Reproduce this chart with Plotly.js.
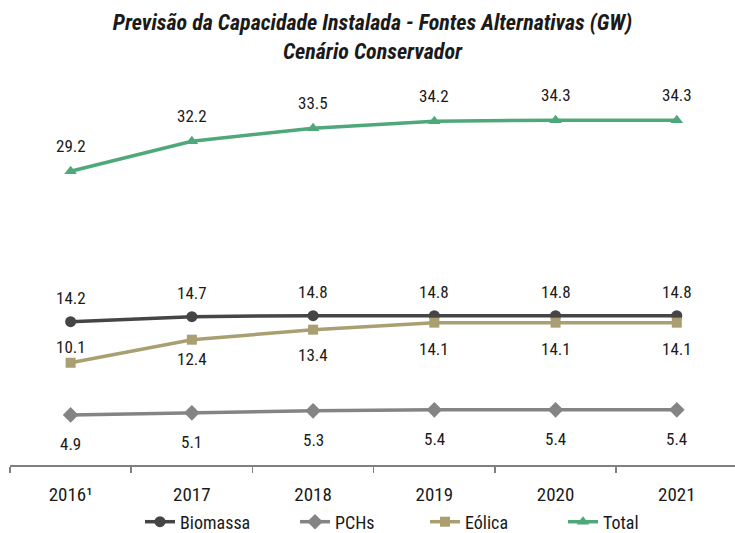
<!DOCTYPE html>
<html>
<head>
<meta charset="utf-8">
<script src="https://cdn.plot.ly/plotly-3.0.1.min.js"></script>
<style>body{margin:0;padding:0;background:#fff}#chart{width:735px;height:533px}</style>
</head>
<body>
<div id="chart"></div>
<script>
const categories = ['2016¹', '2017', '2018', '2019', '2020', '2021'];
const biomassa = [14.2, 14.7, 14.8, 14.8, 14.8, 14.8];
const pchs = [4.9, 5.1, 5.3, 5.4, 5.4, 5.4];
const eolica = [10.1, 12.4, 13.4, 14.1, 14.1, 14.1];
const total = [29.2, 32.2, 33.5, 34.2, 34.3, 34.3];
const seriesNames = ['Biomassa', 'PCHs', 'Eólica', 'Total'];

const FONT = '"Roboto Condensed", "Liberation Sans Narrow", Roboto, sans-serif';
const colors = ['#454545', '#848484', '#A99F70', '#4FA87A'];
const symbols = ['circle', 'diamond', 'square', 'triangle-up'];
const sizes = [11, 12, 10, 11];
const allSeries = [biomassa, pchs, eolica, total];
// label offsets (pixels) per series: positive = above
const shifts = [
  [24, 24, 24, 24, 24, 24],
  [-29, -29, -29, -29, -29, -29],
  [16, -19, -25, -26, -26, -26],
  [25, 25, 25, 25, 25, 25]
];
// legend placement (left pixel of each legend item) and legend ids
const legendLeft = [140, 295, 425, 563];
const legendIds = ['legend', 'legend2', 'legend3', 'legend4'];

const traces = allSeries.map((vals, s) => ({
  type: 'scatter', mode: 'lines+markers',
  x: categories, y: vals, name: seriesNames[s],
  legend: legendIds[s],
  line: {color: colors[s], width: 3.5},
  marker: {color: colors[s], symbol: symbols[s], size: sizes[s]},
  hoverinfo: 'skip'
}));

const annotations = [];
allSeries.forEach((vals, s) => {
  vals.forEach((v, i) => {
    annotations.push({
      x: i, y: v, xref: 'x', yref: 'y',
      text: v.toFixed(1), showarrow: false, yshift: shifts[s][i],
      font: {family: FONT, size: 17, color: '#1a1a1a'}
    });
  });
});

const W = 735, H = 533, ML = 10, MR = 0, MT = 63, MB = 68;
const plotW = W - ML - MR, plotH = H - MT - MB;

const layout = {
  width: W, height: H,
  margin: {l: ML, r: MR, t: MT, b: MB, autoexpand: false},
  paper_bgcolor: '#fff', plot_bgcolor: '#fff',
  title: {
    text: '<b><i>Previsão da Capacidade Instalada - Fontes Alternativas (GW)<br>Cenário Conservador</i></b>',
    font: {family: FONT, size: 22, color: '#1a1a1a'},
    x: 0.5, xanchor: 'center', xref: 'paper',
    y: 1 - 30 / H, yref: 'container', yanchor: 'top'
  },
  xaxis: {
    type: 'category', range: [-0.5, 5.48],
    showline: true, linecolor: '#808080', linewidth: 1.5,
    ticks: 'outside', tickson: 'boundaries', ticklen: 6, tickcolor: '#808080', tickwidth: 1.5,
    ticklabelstandoff: 12,
    showgrid: false, zeroline: false,
    tickfont: {family: FONT, size: 19, color: '#1a1a1a'},
    fixedrange: true
  },
  yaxis: {range: [-0.1, 40], visible: false, showgrid: false, zeroline: false, fixedrange: true},
  showlegend: true,
  annotations: annotations
};
legendIds.forEach((id, s) => {
  layout[id] = {
    orientation: 'h', xref: 'paper', yref: 'container',
    x: (legendLeft[s] - ML) / plotW, xanchor: 'left',
    y: (H - 522) / H, yanchor: 'middle',
    font: {family: FONT, size: 18, color: '#1a1a1a'},
    bgcolor: 'rgba(0,0,0,0)'
  };
});

Plotly.newPlot('chart', traces, layout, {displayModeBar: false, staticPlot: true});
</script>
</body>
</html>
